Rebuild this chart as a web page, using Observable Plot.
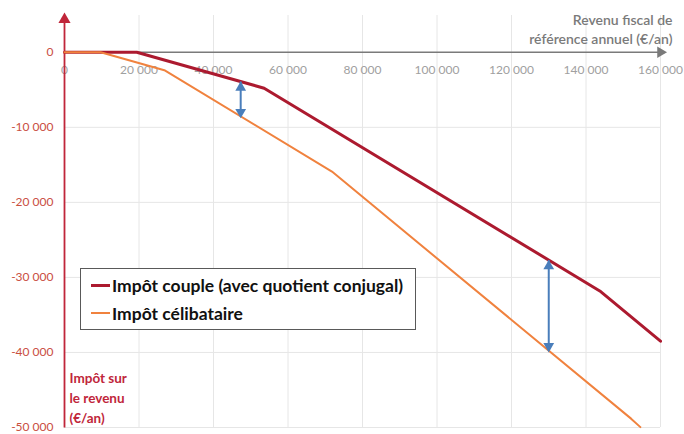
<!DOCTYPE html>
<html>
<head>
<meta charset="utf-8">
<script src="https://cdn.jsdelivr.net/npm/d3@7"></script>
<script src="https://cdn.jsdelivr.net/npm/@observablehq/plot@0.6"></script>
<style>
  body { margin: 0; background: #fff; font-family: Lato, "Open Sans", sans-serif; }
  #wrap { position: relative; width: 684px; height: 434px; }
  #legend { position: absolute; left: 80px; top: 268px; width: 336px; height: 62px;
    border: 1.5px solid #595959; background: #fff; box-sizing: border-box; padding-left: 10px; }
  .entry { display: flex; align-items: center; height: 28px; font-weight: bold; font-size: 17.5px; color: #111; }
  .entry:first-child { margin-top: 2px; }
  .sw { width: 19px; margin-right: 2px; }
</style>
</head>
<body>
<div id="wrap">
  <div id="chart"></div>
  <div id="legend">
    <div class="entry"><span class="sw" style="border-top:3px solid #ac1a2f"></span>Impôt couple (avec quotient conjugal)</div>
    <div class="entry"><span class="sw" style="border-top:2px solid #f0823e"></span>Impôt célibataire</div>
  </div>
</div>
<script>
const coupleIncome = [0, 19400, 53600, 143700, 160000];
const coupleTax    = [0, 0, -4790, -31800, -38500];
const singleIncome = [0, 9700, 26800, 71800, 152100, 154600];
const singleTax    = [0, 0, -2390, -15900, -48820, -49950];
const arrowIncome  = [47300, 130000];
const arrowTop     = [-3900, -27700];
const arrowBottom  = [-8500, -39700];
const xTicks = [0, 20000, 40000, 60000, 80000, 100000, 120000, 140000, 160000];
const yTicks = [0, -10000, -20000, -30000, -40000, -50000];
const xDomain = [0, 160000];
const yDomain = [-50000, 4900];

const couple = coupleIncome.map((x, i) => ({x, y: coupleTax[i]}));
const single = singleIncome.map((x, i) => ({x, y: singleTax[i]}));
const arrows = arrowIncome.map((x, i) => ({x, y1: arrowTop[i], y2: arrowBottom[i]}));

const loc = d3.formatLocale({decimal: ",", thousands: " ", grouping: [3], currency: ["", "€"], minus: "-"});
const fmt = loc.format(",");

const red = "#ac1a2f", orange = "#f0823e", blue = "#4a7ebb";

const chart = Plot.plot({
  width: 684, height: 434,
  marginLeft: 64, marginRight: 24, marginTop: 15, marginBottom: 7,
  style: {fontFamily: "Lato, 'Open Sans', sans-serif", background: "#fff"},
  x: {domain: xDomain, axis: null},
  y: {domain: yDomain, axis: null},
  marks: [
    Plot.ruleX(xTicks.slice(1), {stroke: "#e6e6e6", strokeWidth: 1}),
    Plot.ruleY(yTicks.slice(1), {stroke: "#e6e6e6", strokeWidth: 1}),
    Plot.axisY(yTicks, {anchor: "left", tickSize: 0, tickPadding: 11, tickFormat: fmt, fill: "#c9503f", fontSize: 12, stroke: null}),
    Plot.text(xTicks, {x: d => d, y: 0, dy: 18, text: d => fmt(d), fill: "#a0a0a0", fontSize: 12}),
    Plot.link([0], {x1: xDomain[0], x2: xDomain[1], y1: 0, y2: 0, stroke: "#7a7a7a", strokeWidth: 1.6}),
    Plot.dot([0], {x: xDomain[1], y: 0, symbol: "triangle", rotate: 90, r: 4.2, fill: "#7a7a7a", stroke: null}),
    Plot.link([0], {x1: 0, x2: 0, y1: yDomain[0], y2: yDomain[1], stroke: "#c0263a", strokeWidth: 1.8}),
    Plot.dot([0], {x: 0, y: yDomain[1], symbol: "triangle", r: 4.5, fill: "#c0263a", stroke: null, dy: 4}),
    Plot.line(couple, {x: "x", y: "y", stroke: red, strokeWidth: 3}),
    Plot.line(single, {x: "x", y: "y", stroke: orange, strokeWidth: 2}),
    Plot.link(arrows, {x1: "x", x2: "x", y1: "y1", y2: "y2", stroke: blue, strokeWidth: 2, insetTop: 4}),
    Plot.dot(arrows, {x: "x", y: "y1", symbol: "triangle", r: 4, fill: blue, stroke: null, dy: 6}),
    Plot.dot(arrows, {x: "x", y: "y2", symbol: "triangle", rotate: 180, r: 4, fill: blue, stroke: null, dy: -4}),
    Plot.text(["Revenu fiscal de\nréférence annuel (€/an)"], {frameAnchor: "top-right", textAnchor: "end", lineAnchor: "top", dx: 12, dy: -3, fontSize: 14, fontWeight: 600, fill: "#7a7a7a", lineHeight: 1.3}),
    Plot.text(["Impôt sur\nle revenu\n(€/an)"], {frameAnchor: "bottom-left", textAnchor: "start", lineAnchor: "bottom", dx: 5, dy: -5, fontSize: 13.5, fontWeight: "bold", fill: "#c0263a", lineHeight: 1.45})
  ]
});
document.getElementById("chart").appendChild(chart);
</script>
</body>
</html>
